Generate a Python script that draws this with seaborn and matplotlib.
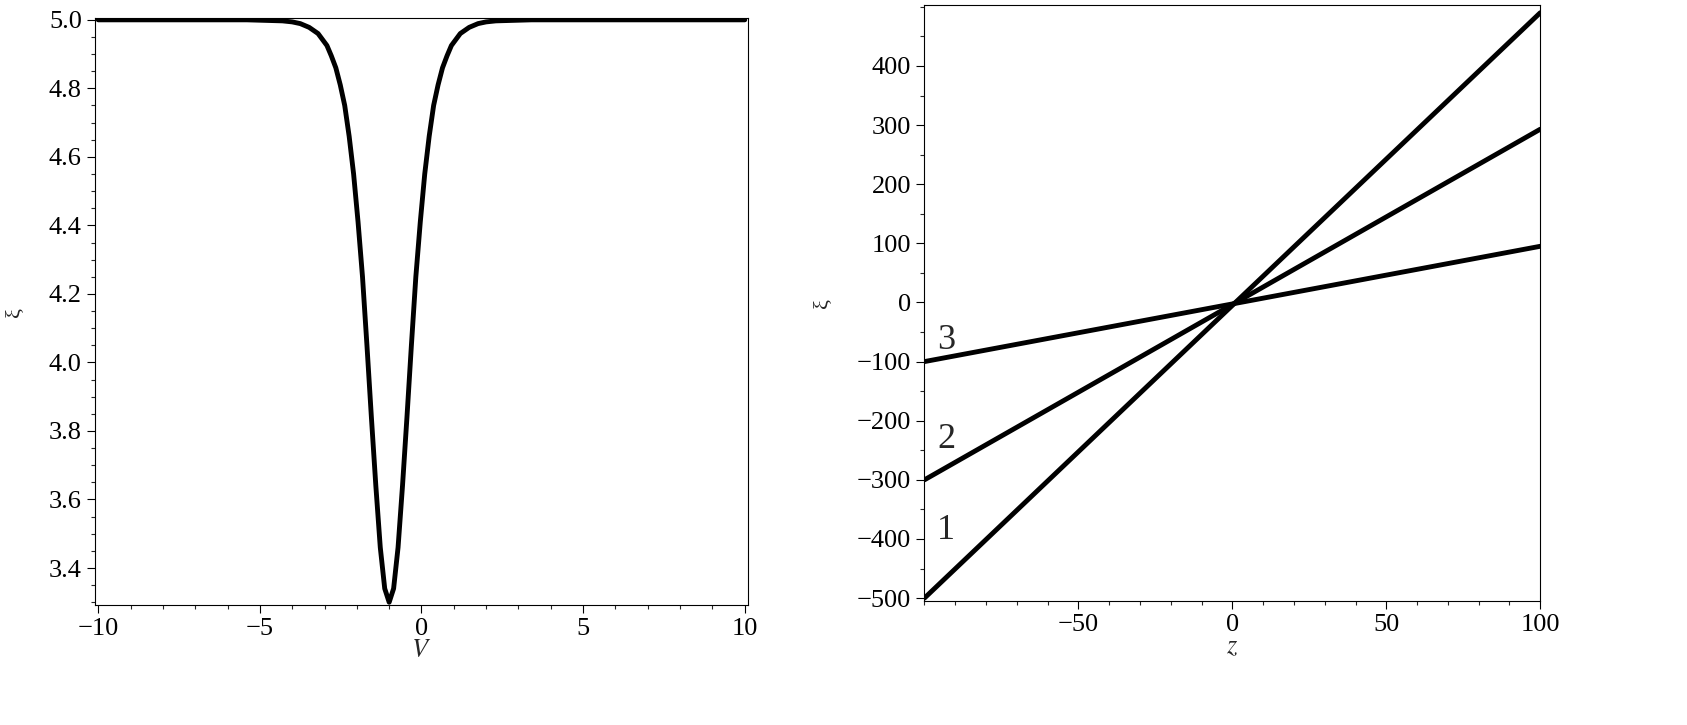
import matplotlib
matplotlib.use("Agg")
import matplotlib.pyplot as plt
import seaborn as sns
from matplotlib.ticker import MultipleLocator, FixedLocator

# left panel: dip curve
v_vals = [-10, -6, -5.4, -4.3, -4.0, -3.75, -3.475, -3.2, -2.925, -2.79, -2.65,
          -2.5125, -2.375, -2.2375, -2.1, -1.9625, -1.825, -1.6875, -1.55, -1.4125,
          -1.275, -1.1375, -1.0, -0.8625, -0.725, -0.5875, -0.45, -0.3125, -0.175,
          -0.0375, 0.1, 0.2375, 0.375, 0.5125, 0.65, 0.79, 0.925, 1.2, 1.475, 1.75,
          2.0, 2.3, 3.4, 5, 10]
xi_vals = [5.0, 5.0, 5.0, 4.997, 4.994, 4.989, 4.978, 4.96, 4.925, 4.895, 4.86,
           4.81, 4.75, 4.66, 4.55, 4.41, 4.25, 4.05, 3.84, 3.64,
           3.46, 3.34, 3.30, 3.34, 3.46, 3.64, 3.84, 4.05, 4.25,
           4.41, 4.55, 4.66, 4.75, 4.81, 4.86, 4.895, 4.925, 4.96, 4.978, 4.989,
           4.994, 4.997, 5.0, 5.0, 5.0]

# right panel: three straight lines (end points)
z_ends = [-100, 100]
lines = {"1": [-500, 490], "2": [-300, 293], "3": [-100, 95]}
label_pos = {"1": (-93, -385), "2": (-93, -232), "3": (-93, -65)}

sns.set_theme(style="ticks")
plt.rcParams["font.family"] = ["Liberation Serif", "DejaVu Serif"]
plt.rcParams["mathtext.fontset"] = "stix"

fig = plt.figure(figsize=(16.87, 7.25), dpi=100)
ax1 = fig.add_axes([0.0563, 0.1655, 0.3871, 0.8095])
ax2 = fig.add_axes([0.548, 0.171, 0.365, 0.822])

sns.lineplot(x=v_vals, y=xi_vals, ax=ax1, color="black", lw=3.5, sort=False,
             solid_joinstyle="round")
ax1.set_xlim(-10.1, 10.1)
ax1.set_ylim(3.292, 5.005)
ax1.xaxis.set_major_locator(MultipleLocator(5))
ax1.xaxis.set_minor_locator(MultipleLocator(1))
ax1.yaxis.set_major_locator(FixedLocator([3.4, 3.6, 3.8, 4.0, 4.2, 4.4, 4.6, 4.8, 5.0]))
ax1.yaxis.set_minor_locator(MultipleLocator(0.05))
ax1.yaxis.set_major_formatter(matplotlib.ticker.FormatStrFormatter("%.1f"))
ax1.set_xlabel("$V$", fontsize=19, labelpad=0)
ax1.set_ylabel("ξ", fontsize=16, labelpad=18)

for name, ys in lines.items():
    sns.lineplot(x=z_ends, y=ys, ax=ax2, color="black", lw=3.5)
    ax2.text(*label_pos[name], name, fontsize=26, ha="center", va="center")
ax2.set_xlim(-100, 100)
ax2.set_ylim(-505, 503)
ax2.xaxis.set_major_locator(FixedLocator([-50, 0, 50, 100]))
ax2.xaxis.set_minor_locator(MultipleLocator(10))
ax2.yaxis.set_major_locator(FixedLocator(list(range(-500, 401, 100))))
ax2.yaxis.set_minor_locator(MultipleLocator(50))
ax2.set_xlabel("$z$", fontsize=19, labelpad=0)
ax2.set_ylabel("ξ", fontsize=16, labelpad=18)

for ax in (ax1, ax2):
    for s in ax.spines.values():
        s.set_linewidth(0.8)
        s.set_color("black")
    ax.tick_params(which="major", length=6, width=0.8, labelsize=19, colors="black")
    ax.tick_params(which="minor", length=3, width=0.8)

fig.savefig("out.png", dpi=100)
